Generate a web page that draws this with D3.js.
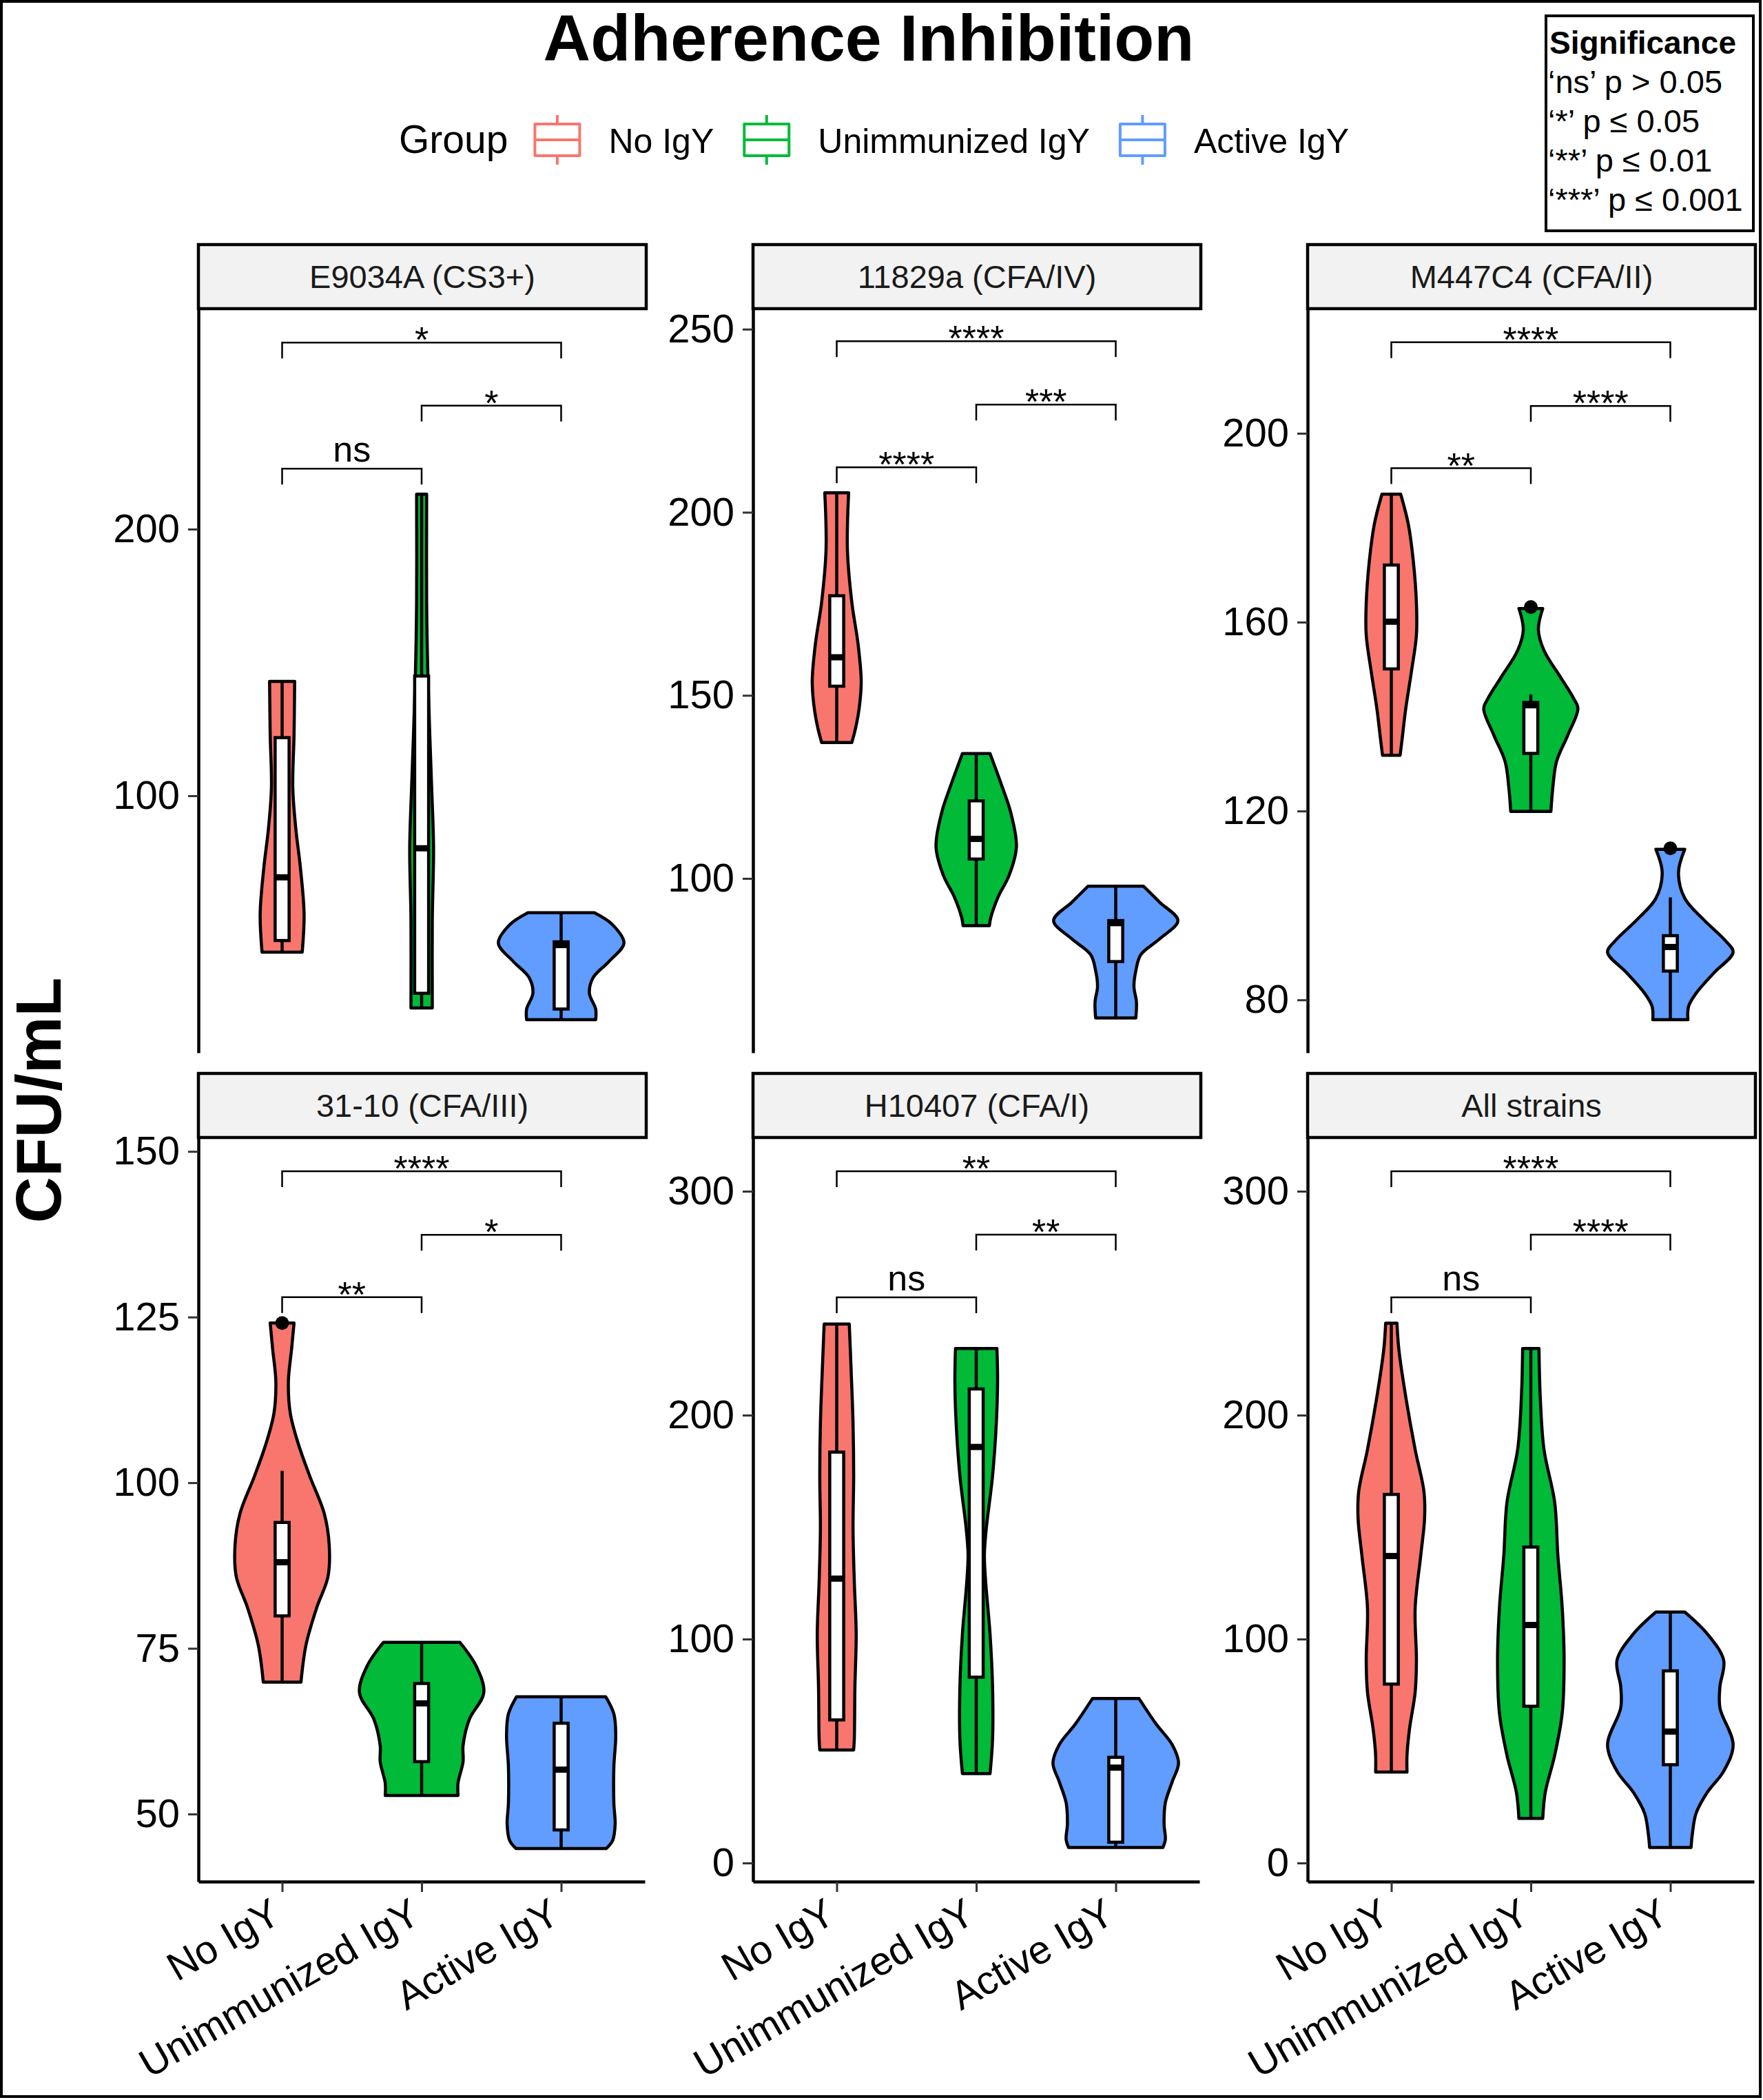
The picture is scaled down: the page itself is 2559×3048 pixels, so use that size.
<!DOCTYPE html>
<html>
<head>
<meta charset="utf-8">
<script src="https://cdn.jsdelivr.net/npm/d3@7"></script>
<style>
  body { margin: 0; background: #fff; }
  svg { display: block; font-family: "Liberation Sans", Arial, Helvetica, sans-serif; }
</style>
</head>
<body>
<svg width="2559" height="3048"></svg>
<script>
// ---------- values ----------
const groups  = ['No IgY', 'Unimmunized IgY', 'Active IgY'];
const strains = ['E9034A (CS3+)', '11829a (CFA/IV)', 'M447C4 (CFA/II)',
                 '31-10 (CFA/III)', 'H10407 (CFA/I)', 'All strains'];

const yTicks = [
  [100, 200],
  [100, 150, 200, 250],
  [80, 120, 160, 200],
  [50, 75, 100, 125, 150],
  [0, 100, 200, 300],
  [0, 100, 200, 300]
];
const yDomains = [
  [3.6, 282.7], [52.4, 255.6], [68.8, 226.4],
  [39.8, 152.1], [-8.3, 324], [-8.3, 324]
];

// [lower whisker, Q1, median, Q3, upper whisker], per strain, per group
const boxStats = [
  [[41.3, 45.7, 69.4, 121.8, 142.9], [20.4, 25.9, 80.3, 144.9, 213.1], [16.0, 20.0, 44.0, 45.2, 56.1]],
  [[137.1, 152.5, 160.4, 177.2, 205.3], [87.1, 105.3, 110.8, 121.2, 134.1], [61.9, 77.3, 87.8, 88.5, 97.9]],
  [[131.8, 150.1, 160.1, 172.1, 187.1], [119.9, 132.2, 142.4, 143.0, 144.7], [75.8, 86.1, 91.2, 93.6, 101.7]],
  [[69.9, 79.9, 88.0, 94.0, 101.8], [52.8, 57.9, 66.7, 69.7, 75.9], [44.8, 47.6, 56.7, 63.7, 67.7]],
  [[50.5, 63.9, 127.0, 183.5, 240.7], [39.9, 83.0, 185.8, 211.7, 229.8], [6.9, 9.3, 42.6, 47.2, 73.5]],
  [[40.6, 79.9, 137.1, 164.6, 241.1], [19.9, 70.0, 106.3, 141.1, 229.8], [6.9, 43.9, 58.7, 85.8, 112.1]]
];
const outliers = [
  [[], [], []],
  [[], [], []],
  [[], [163.2], [112.1]],
  [[124.1], [], []],
  [[], [], []],
  [[], [], []]
];

// violin outlines: [value, relative density], top to bottom
const violins = [
  [
    [[142.9, .20], [122.8, .19], [103.0, .17], [87.2, .22], [73.3, .29], [55.6, .35], [41.3, .32]],
    [[213.1, .08], [172.2, .08], [144.9, .10], [122.8, .13], [103.0, .16], [80.3, .19], [53.6, .17], [20.4, .17]],
    [[56.1, .53], [51.6, .82], [44.7, 1.0], [37.8, .76], [31.8, .51], [25.9, .45], [20.0, .55], [16.0, .55]]
  ],
  [
    [[205.3, .19], [189.9, .17], [175.5, .24], [164.0, .34], [153.9, .39], [146.8, .36], [141.0, .30], [137.1, .24]],
    [[134.1, .22], [125.2, .41], [118.0, .55], [108.6, .64], [100.7, .52], [95.0, .35], [89.2, .23], [87.1, .21]],
    [[97.9, .44], [93.5, .70], [88.5, .99], [83.5, .70], [79.2, .40], [74.8, .32], [70.5, .29], [66.2, .33], [61.9, .32]]
  ],
  [
    [[187.1, .15], [180.8, .27], [173.0, .35], [164.0, .40], [157.3, .40], [149.5, .32], [141.7, .23], [135.0, .17], [131.8, .14]],
    [[162.9, .19], [158.4, .12], [154.0, .21], [148.4, .47], [143.9, .68], [141.7, .75], [136.1, .59], [130.5, .41], [124.9, .35], [119.9, .32]],
    [[111.9, .23], [107.0, .13], [101.5, .23], [97.0, .53], [92.5, .88], [90.1, 1.0], [85.8, .70], [81.4, .41], [78.6, .29], [75.8, .28]]
  ],
  [
    [[124.1, .19], [120.1, .15], [115.3, .10], [110.5, .13], [105.8, .26], [101.0, .44], [95.4, .67], [90.6, .75], [85.8, .73], [81.1, .55], [75.5, .38], [69.9, .30]],
    [[75.9, .61], [72.3, .87], [68.3, .99], [64.3, .76], [60.3, .66], [57.9, .66], [54.7, .58], [52.8, .58]],
    [[67.7, .71], [65.1, .84], [61.9, .87], [57.2, .84], [51.6, .84], [48.4, .86], [46.0, .82], [44.8, .72]]
  ],
  [
    [[240.7, .20], [219.9, .23], [196.4, .26], [172.9, .27], [149.3, .26], [125.8, .28], [102.3, .31], [78.7, .29], [55.2, .28], [50.5, .27]],
    [[229.8, .33], [215.3, .34], [196.4, .32], [172.9, .26], [149.3, .16], [137.6, .13], [125.8, .15], [102.3, .22], [78.7, .26], [55.2, .26], [39.9, .22]],
    [[73.5, .37], [62.2, .64], [52.8, .90], [44.6, 1.0], [36.3, .90], [26.9, .79], [17.5, .77], [10.5, .79], [6.9, .75]]
  ],
  [
    [[241.1, .09], [229.4, .12], [208.2, .23], [184.6, .38], [165.8, .52], [154.0, .53], [137.6, .47], [114.0, .38], [90.5, .40], [76.3, .38], [59.9, .29], [48.1, .25], [40.6, .25]],
    [[229.8, .13], [208.2, .15], [184.6, .21], [161.1, .38], [137.6, .43], [114.0, .50], [90.5, .53], [66.9, .50], [48.1, .38], [31.6, .23], [19.9, .19]],
    [[112.1, .23], [102.3, .59], [90.5, .85], [78.7, .79], [69.3, .79], [52.8, 1.0], [41.0, .85], [31.6, .59], [22.2, .41], [12.8, .35], [6.9, .33]]
  ]
];

// significance brackets: pairs compared, their heights per strain, and the labels
const bracketPairs  = [[0, 2], [1, 2], [0, 1]];
const bracketLevels = [
  [270.0, 246.3, 222.7],
  [246.7, 229.4, 212.3],
  [219.3, 205.8, 192.6],
  [147.0, 137.4, 128.0],
  [308.9, 280.6, 252.6],
  [308.9, 280.6, 252.6]
];
const bracketLabels = [
  ['*', '*', 'ns'],
  ['****', '***', '****'],
  ['****', '****', '**'],
  ['****', '*', '**'],
  ['**', '**', 'ns'],
  ['****', '****', 'ns']
];

const sigKeyTitle = 'Significance';
const sigKeyLines = ['\u2018ns\u2019 p > 0.05', '\u2018*\u2019 p \u2264 0.05',
                     '\u2018**\u2019 p \u2264 0.01', '\u2018***\u2019 p \u2264 0.001'];

// ---------- style / layout ----------
const colors = ['#F8766D', '#00BA38', '#619CFF'];
const panelLeft = [288, 1093, 1898];
const rowTop = [448, 1651];
const panelW = 648, panelH = 1080, stripH = 93;
const lw = 4.5;
const tickFont = 58;

const svg = d3.select('svg');
svg.append('rect').attr('width', 2559).attr('height', 3048).attr('fill', '#fff');
svg.append('rect')                                   // outer frame
  .attr('x', 2).attr('y', 2).attr('width', 2553).attr('height', 3041)
  .attr('fill', 'none').attr('stroke', '#000').attr('stroke-width', 4);

// title
svg.append('text')
  .attr('x', 1261).attr('y', 88)
  .attr('text-anchor', 'middle')
  .attr('font-size', 95).attr('font-weight', 'bold')
  .text('Adherence Inhibition');

// y axis title
svg.append('text')
  .attr('transform', 'translate(88,1597) rotate(-90)')
  .attr('text-anchor', 'middle')
  .attr('font-size', 93).attr('font-weight', 'bold')
  .text('CFU/mL');

// legend (laid out left to right)
const legend = svg.append('g');
let lx = 579;
const legTitle = legend.append('text')
  .attr('x', lx).attr('y', 222).attr('font-size', 57).text('Group');
lx += legTitle.node().getComputedTextLength() + 37;
groups.forEach((grp, k) => {
  const key = legend.append('g').attr('transform', `translate(${lx},0)`)
    .attr('stroke', colors[k]).attr('stroke-width', 4).attr('fill', 'none');
  key.append('line').attr('x1', 34.5).attr('x2', 34.5).attr('y1', 167).attr('y2', 180);
  key.append('line').attr('x1', 34.5).attr('x2', 34.5).attr('y1', 226).attr('y2', 239);
  key.append('rect').attr('x', 2).attr('y', 180).attr('width', 65).attr('height', 46)
    .attr('fill', '#fff').attr('stroke-linejoin', 'round');
  key.append('line').attr('x1', 2).attr('x2', 67).attr('y1', 203).attr('y2', 203);
  lx += 69 + 40;
  const t = legend.append('text').attr('x', lx).attr('y', 222).attr('font-size', 50).text(grp);
  lx += t.node().getComputedTextLength() + 42;
});

// significance key
const sig = svg.append('g');
sig.append('rect')
  .attr('x', 2244).attr('y', 23).attr('width', 301).attr('height', 312)
  .attr('fill', '#fff').attr('stroke', '#000').attr('stroke-width', 4);
sig.append('text').attr('x', 2249).attr('y', 78)
  .attr('font-size', 46).attr('font-weight', 'bold').text(sigKeyTitle);
sigKeyLines.forEach((s, k) => {
  sig.append('text').attr('x', 2247).attr('y', 135 + k * 57).attr('font-size', 47).text(s);
});

// ---------- panels ----------
strains.forEach((strain, i) => {
  const col = i % 3, row = Math.floor(i / 3);
  const g = svg.append('g')
    .attr('transform', `translate(${panelLeft[col]},${rowTop[row]})`);

  const x = d3.scalePoint().domain(groups).range([0, panelW]).padding(0.6);
  const step = x.step();
  const y = d3.scaleLinear().domain(yDomains[i]).range([panelH, 0]);
  const w = d3.scaleLinear().domain([0, 1]).range([0, 0.45 * step]);
  const boxHalf = 0.05 * step;

  // strip
  g.append('rect')
    .attr('x', 0).attr('y', -stripH).attr('width', panelW + 2).attr('height', stripH)
    .attr('fill', '#F2F2F2').attr('stroke', '#000').attr('stroke-width', lw);
  g.append('text')
    .attr('x', (panelW + 2) / 2).attr('y', -stripH / 2)
    .attr('text-anchor', 'middle').attr('dominant-baseline', 'central')
    .attr('font-size', 47).attr('fill', '#1A1A1A')
    .text(strain);

  // violins
  groups.forEach((grp, k) => {
    const cx = x(grp);
    const area = d3.area()
      .curve(d3.curveCatmullRom)
      .y(d => y(d[0]))
      .x0(d => cx - w(d[1]))
      .x1(d => cx + w(d[1]));
    g.append('path')
      .attr('d', area(violins[i][k]))
      .attr('fill', colors[k]).attr('stroke', '#000')
      .attr('stroke-width', lw).attr('stroke-linejoin', 'round');
  });

  // boxplots
  groups.forEach((grp, k) => {
    const cx = x(grp);
    const [lo, q1, med, q3, hi] = boxStats[i][k];
    g.append('line').attr('x1', cx).attr('x2', cx).attr('y1', y(q3)).attr('y2', y(hi))
      .attr('stroke', '#000').attr('stroke-width', lw);
    g.append('line').attr('x1', cx).attr('x2', cx).attr('y1', y(q1)).attr('y2', y(lo))
      .attr('stroke', '#000').attr('stroke-width', lw);
    g.append('rect')
      .attr('x', cx - boxHalf).attr('width', boxHalf * 2)
      .attr('y', y(q3)).attr('height', y(q1) - y(q3))
      .attr('fill', '#fff').attr('stroke', '#000').attr('stroke-width', lw);
    g.append('line')
      .attr('x1', cx - boxHalf).attr('x2', cx + boxHalf).attr('y1', y(med)).attr('y2', y(med))
      .attr('stroke', '#000').attr('stroke-width', 9);
    g.selectAll(null).data(outliers[i][k]).join('circle')
      .attr('cx', cx).attr('cy', d => y(d)).attr('r', 10).attr('fill', '#000');
  });

  // brackets
  bracketPairs.forEach(([a, b], k) => {
    const yy = y(bracketLevels[i][k]);
    const xa = x(groups[a]), xb = x(groups[b]);
    g.append('path')
      .attr('d', `M${xa},${yy + 23}V${yy}H${xb}V${yy + 23}`)
      .attr('fill', 'none').attr('stroke', '#000').attr('stroke-width', 2.5);
    const lab = bracketLabels[i][k];
    g.append('text')
      .attr('x', (xa + xb) / 2)
      .attr('y', lab === 'ns' ? yy - 10 : yy + 14)
      .attr('text-anchor', 'middle').attr('font-size', 52)
      .text(lab);
  });

  // y axis
  const ya = g.append('g')
    .call(d3.axisLeft(y).tickValues(yTicks[i]).tickSize(15).tickSizeOuter(0).tickPadding(12));
  ya.attr('font-family', null).attr('font-size', null);
  ya.select('.domain').attr('stroke', '#000').attr('stroke-width', lw);
  ya.selectAll('.tick line').attr('stroke', '#333').attr('stroke-width', 3);
  ya.selectAll('.tick text').attr('font-size', tickFont).attr('fill', '#000');

  // x axis on the bottom row only
  if (row === 1) {
    const xa = g.append('g')
      .attr('transform', `translate(0,${panelH})`)
      .call(d3.axisBottom(x).tickSize(15).tickSizeOuter(0));
    xa.attr('font-family', null).attr('font-size', null);
    xa.select('.domain').attr('stroke', '#000').attr('stroke-width', lw);
    xa.selectAll('.tick line').attr('stroke', '#333').attr('stroke-width', 3);
    xa.selectAll('.tick text')
      .attr('x', null).attr('y', null).attr('dy', '0.72em')
      .attr('transform', 'translate(-20,21) rotate(-30)')
      .attr('text-anchor', 'end')
      .attr('font-size', tickFont).attr('fill', '#000');
  }
});
</script>
</body>
</html>
